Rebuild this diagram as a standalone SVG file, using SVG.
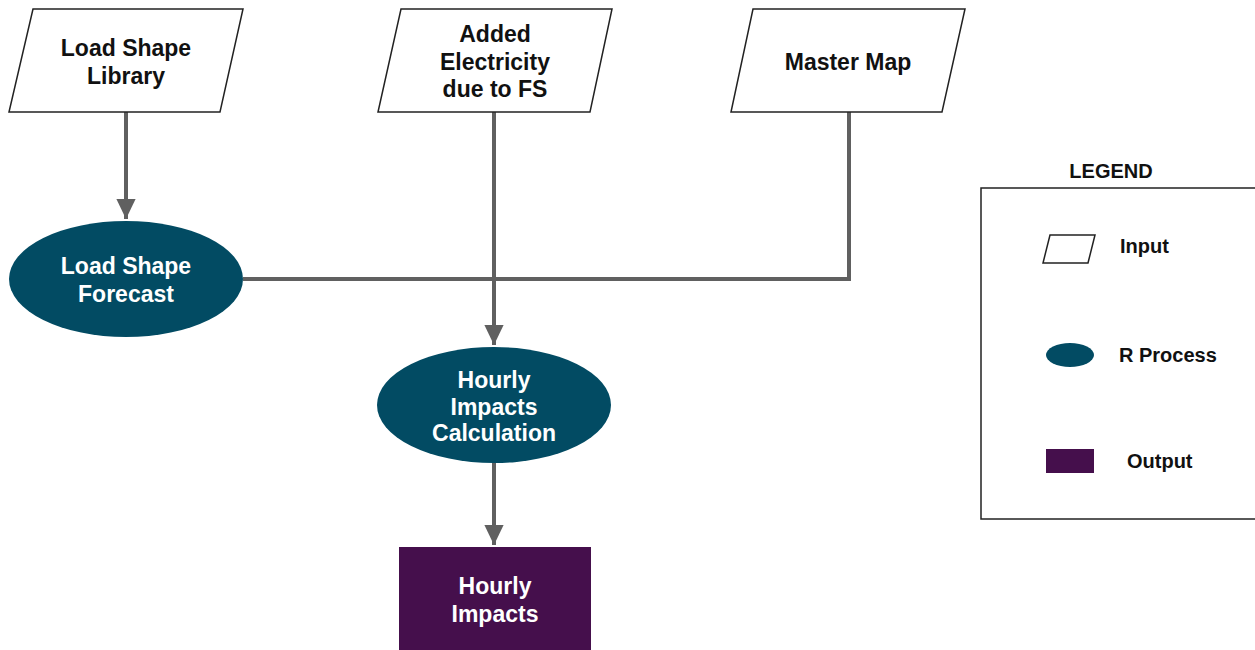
<svg xmlns="http://www.w3.org/2000/svg" width="1255" height="650" viewBox="0 0 1255 650">
<defs>
<style>
.inp{fill:#fff;stroke:#222;stroke-width:1.5}
.proc{fill:#024B63}
.out{fill:#450F4C}
.t{font-family:"Liberation Sans",Arial,sans-serif;font-weight:bold;font-size:23px;text-anchor:middle}
.dk{fill:#111}
.wh{fill:#fff}
.lg{font-family:"Liberation Sans",Arial,sans-serif;font-weight:bold;font-size:20px;fill:#111}
.con{stroke:#606060;stroke-width:4;fill:none}
</style>
<marker id="ah" markerWidth="6" markerHeight="6" refX="5" refY="3" orient="auto" markerUnits="strokeWidth">
<path d="M0,0.6 L5,3 L0,5.4 Z" fill="#606060"/>
</marker>
</defs>
<rect width="1255" height="650" fill="#fff"/>
<g id="connectors">
<line class="con" x1="126" y1="112" x2="126" y2="219" marker-end="url(#ah)"/>
<polyline class="con" points="243,279 849,279 849,112"/>
<line class="con" x1="494" y1="112" x2="494" y2="345" marker-end="url(#ah)"/>
<line class="con" x1="494" y1="463" x2="494" y2="545" marker-end="url(#ah)"/>
</g>
<g id="load-shape-library">
<polygon class="inp" points="33,9 243,9 220,112 9,112"/>
<text class="t dk" x="126" y="56">Load Shape</text>
<text class="t dk" x="126" y="84">Library</text>
</g>
<g id="added-electricity">
<polygon class="inp" points="401,9 612,9 590,112 378,112"/>
<text class="t dk" x="495" y="42">Added</text>
<text class="t dk" x="495" y="70">Electricity</text>
<text class="t dk" x="495" y="97">due to FS</text>
</g>
<g id="master-map">
<polygon class="inp" points="753,9 965,9 942,112 731,112"/>
<text class="t dk" x="848" y="70">Master Map</text>
</g>
<g id="load-shape-forecast">
<ellipse class="proc" cx="126" cy="279" rx="117" ry="58"/>
<text class="t wh" x="126" y="274">Load Shape</text>
<text class="t wh" x="126" y="302">Forecast</text>
</g>
<g id="hourly-impacts-calculation">
<ellipse class="proc" cx="494" cy="405" rx="117" ry="58"/>
<text class="t wh" x="494" y="388">Hourly</text>
<text class="t wh" x="494" y="415">Impacts</text>
<text class="t wh" x="494" y="441">Calculation</text>
</g>
<g id="hourly-impacts">
<rect class="out" x="399" y="547" width="192" height="110"/>
<text class="t wh" x="495" y="594">Hourly</text>
<text class="t wh" x="495" y="622">Impacts</text>
</g>
<g id="legend">
<text class="lg" x="1111" y="178" text-anchor="middle">LEGEND</text>
<rect x="981" y="188" width="280" height="331" fill="none" stroke="#222" stroke-width="1.5"/>
<polygon class="inp" points="1050,235 1095,235 1088,263 1043,263"/>
<text class="lg" x="1120" y="253">Input</text>
<ellipse class="proc" cx="1070" cy="355" rx="24" ry="12"/>
<text class="lg" x="1119" y="362">R Process</text>
<rect class="out" x="1046" y="449" width="48" height="24"/>
<text class="lg" x="1127" y="468">Output</text>
</g>
</svg>
